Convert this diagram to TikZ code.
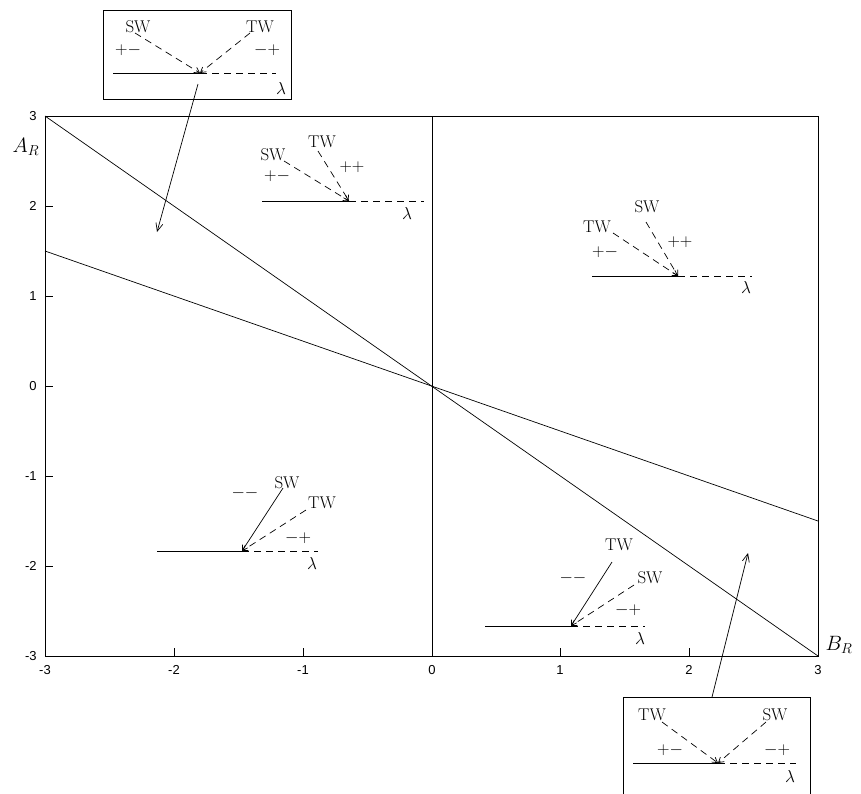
\documentclass[tikz,border=0pt]{standalone}
\usepackage{fontspec}
\newfontfamily\ticksf{Liberation Sans}
\usetikzlibrary{arrows.meta}
\begin{document}
\begin{tikzpicture}[x=1pt,y=-1pt,line width=0.7pt,
  lab/.style={font=\fontsize{17}{19}\selectfont,inner sep=0pt},
  axlab/.style={font=\fontsize{20}{22}\selectfont,inner sep=0pt},
  ticklab/.style={font=\ticksf\fontsize{13}{15}\selectfont,inner sep=0pt},
  dsh/.style={dash pattern=on 7pt off 5pt},
  tip/.style={-{Straight Barb[length=5pt,width=6pt]}},
  bigtip/.style={-{Straight Barb[length=8pt,width=7pt]}}]
\useasboundingbox (0,0) rectangle (861,793);
% frame
\draw (45,116) rectangle (818,656);
\foreach \yy in {206,296,386,476,566} \draw (45,\yy) -- (53,\yy);
\foreach \xx in {174,303,432,560,689} \draw (\xx,656) -- (\xx,648);
\foreach \yy/\tt in {116/3,206/2,296/1,386/0,476/-1,566/-2,656/-3}
  \node[ticklab,anchor=east] (yl\yy) at (37,\yy) {\tt};
\foreach \xx/\tt in {45/-3,174/-2,303/-1,432/0,560/1,689/2,818/3}
  \node[ticklab] (xl\xx) at (\xx,670) {\tt};
\node[axlab] (AR) at (26,147) {$A_R$};
\node[axlab] (BR) at (839,645) {$B_R$};
% plot lines
\coordinate (p0t) at (432,116); \coordinate (p0b) at (432,656);
\coordinate (p1a) at (45,116); \coordinate (p1b) at (818,656);
\coordinate (p2a) at (45,251); \coordinate (p2b) at (818,521);
\draw (p0t) -- (p0b);
\draw (p1a) -- (p1b);
\draw (p2a) -- (p2b);

% ---- inset 1 (top box)
\draw (103,10) rectangle (291,99);
\coordinate (v1) at (200,73);
\coordinate (a1s) at (113,73); \coordinate (a1e) at (276,73);
\draw (a1s) -- (v1); \draw[dsh] (v1) -- (a1e);
\node[lab] (sw1) at (138,27) {SW};
\node[lab] (tw1) at (260,27) {TW};
\node[lab] (pm1) at (128,50) {${+}{-}$};
\node[lab] (mp1) at (267,50) {${-}{+}$};
\node[lab] (la1) at (281,88) {$\lambda$};
\coordinate (s1) at (135,33); \coordinate (t1) at (250,33);
\draw[dsh,tip] (s1) -- (v1);
\draw[dsh,tip] (t1) -- (v1);
\coordinate (b1s) at (198,84); \coordinate (b1e) at (157,232);
\draw[bigtip] (b1s) -- (b1e);

% ---- inset 2
\coordinate (v2) at (349,201);
\coordinate (a2s) at (262,201); \coordinate (a2e) at (424,201);
\draw (a2s) -- (v2); \draw[dsh] (v2) -- (a2e);
\node[lab] (sw2) at (273,155) {SW};
\node[lab] (tw2) at (322,142) {TW};
\node[lab] (pp2) at (352,167) {${+}{+}$};
\node[lab] (pm2) at (277,176) {${+}{-}$};
\node[lab] (la2) at (407,213) {$\lambda$};
\coordinate (s2) at (284,161); \coordinate (t2) at (318,151);
\draw[dsh,tip] (s2) -- (v2);
\draw[dsh,tip] (t2) -- (v2);

% ---- inset 3
\coordinate (v3) at (678,276);
\coordinate (a3s) at (592,276); \coordinate (a3e) at (752,276);
\draw (a3s) -- (v3); \draw[dsh] (v3) -- (a3e);
\node[lab] (sw3) at (647,207) {SW};
\node[lab] (tw3) at (597,227) {TW};
\node[lab] (pp3) at (680,242) {${+}{+}$};
\node[lab] (pm3) at (605,252) {${+}{-}$};
\node[lab] (la3) at (746,287) {$\lambda$};
\coordinate (t3) at (613,233); \coordinate (s3) at (646,222);
\draw[dsh,tip] (t3) -- (v3);
\draw[dsh,tip] (s3) -- (v3);

% ---- inset 4
\coordinate (v4) at (242,551);
\coordinate (a4s) at (157,551); \coordinate (a4e) at (318,551);
\draw (a4s) -- (v4); \draw[dsh] (v4) -- (a4e);
\node[lab] (sw4) at (287,483) {SW};
\node[lab] (tw4) at (322,503) {TW};
\node[lab] (mm4) at (245,493) {${-}{-}$};
\node[lab] (mp4) at (298,538) {${-}{+}$};
\node[lab] (la4) at (312,563) {$\lambda$};
\coordinate (s4) at (283,488); \coordinate (t4) at (306,510);
\draw[tip] (s4) -- (v4);
\draw[dsh,tip] (t4) -- (v4);

% ---- inset 5
\coordinate (v5) at (571,626);
\coordinate (a5s) at (485,626); \coordinate (a5e) at (645,626);
\draw (a5s) -- (v5); \draw[dsh] (v5) -- (a5e);
\node[lab] (tw5) at (619,545) {TW};
\node[lab] (sw5) at (650,578) {SW};
\node[lab] (mm5) at (573,578) {${-}{-}$};
\node[lab] (mp5) at (628,610) {${-}{+}$};
\node[lab] (la5) at (640,638) {$\lambda$};
\coordinate (t5) at (612,562); \coordinate (s5) at (634,585);
\draw[tip] (t5) -- (v5);
\draw[dsh,tip] (s5) -- (v5);

% ---- inset 6 (bottom box)
\draw (623,810) -- (623,697) -- (810,697) -- (810,810);
\coordinate (v6) at (718,763);
\coordinate (a6s) at (633,763); \coordinate (a6e) at (796,763);
\draw (a6s) -- (v6); \draw[dsh] (v6) -- (a6e);
\node[lab] (tw6) at (652,715) {TW};
\node[lab] (sw6) at (775,715) {SW};
\node[lab] (pm6) at (670,750) {${+}{-}$};
\node[lab] (mp6) at (777,750) {${-}{+}$};
\node[lab] (la6) at (790,776) {$\lambda$};
\coordinate (t6) at (662,722); \coordinate (s6) at (766,722);
\draw[dsh,tip] (t6) -- (v6);
\draw[dsh,tip] (s6) -- (v6);
\coordinate (b6s) at (712,697); \coordinate (b6e) at (748,553);
\draw[bigtip] (b6s) -- (b6e);
\end{tikzpicture}
\end{document}
